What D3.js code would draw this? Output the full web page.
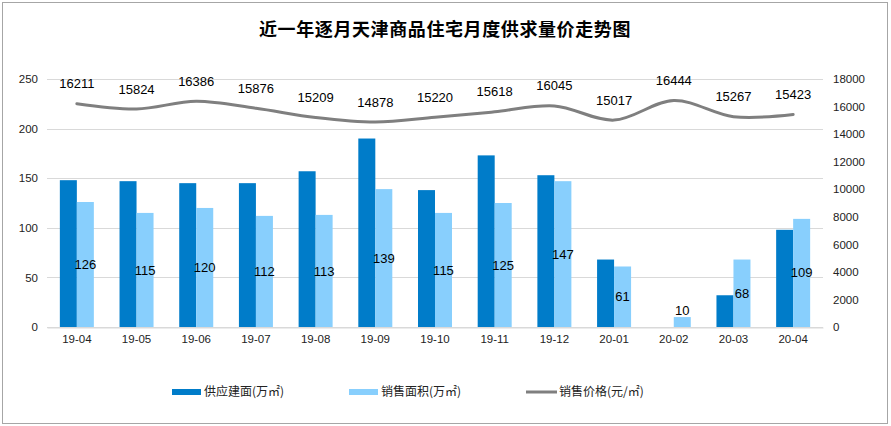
<!DOCTYPE html>
<html lang="zh">
<head>
    <meta charset="utf-8">
    <title>天津商品住宅月度供求量价走势</title>
    <style type="text/css">
        body { margin: 0; background: #fff; }
        .chart text { font-family: "Liberation Sans", Arial, sans-serif; fill: #000; }
        .chart .title { font-family: "Noto Sans CJK SC", sans-serif; font-size: 18px; font-weight: bold; }
        .chart .legend text { font-family: "Noto Sans CJK SC", sans-serif; font-size: 12px; fill: #222; }
        .chart .axis-label { font-size: 11.5px; fill: #222; }
        .chart .data-label { font-size: 13px; }
    </style>
</head>
<body>
    <svg class="chart" width="891" height="426"></svg>

    <script src="https://cdn.jsdelivr.net/npm/d3@7"></script>
    <script>
        // 数据
        var months = ['19-04', '19-05', '19-06', '19-07', '19-08', '19-09', '19-10',
                      '19-11', '19-12', '20-01', '20-02', '20-03', '20-04'];
        var supply = [148, 147, 145, 145, 157, 190, 138, 173, 153, 68, 0, 32, 98];
        var sales  = [126, 115, 120, 112, 113, 139, 115, 125, 147, 61, 10, 68, 109];
        var price  = [16211, 15824, 16386, 15876, 15209, 14878, 15220, 15618, 16045, 15017, 16444, 15267, 15423];
        var leftTicks  = [0, 50, 100, 150, 200, 250];
        var rightTicks = [0, 2000, 4000, 6000, 8000, 10000, 12000, 14000, 16000, 18000];

        var svg = d3.select('.chart');
        var plot = {left: 47, right: 823, top: 79, bottom: 327};

        // 外框
        svg.append('rect')
            .attr('x', 2.5).attr('y', 2.5)
            .attr('width', 885).attr('height', 421)
            .attr('fill', 'none')
            .attr('stroke', '#a6a6a6');

        // 标题
        svg.append('text')
            .attr('class', 'title')
            .attr('x', 445).attr('y', 36)
            .attr('text-anchor', 'middle')
            .style('letter-spacing', '0.6px')
            .text('近一年逐月天津商品住宅月度供求量价走势图');

        // 比例尺
        var x = d3.scaleBand().domain(months).range([plot.left, plot.right]);
        var barW = 17;
        var x1 = d3.scaleBand().domain(['supply', 'sales'])
                    .range([(x.bandwidth() - 2 * barW) / 2, (x.bandwidth() + 2 * barW) / 2]);
        var y = d3.scaleLinear().domain([0, 250]).range([plot.bottom, plot.top]);
        var y2 = d3.scaleLinear().domain([0, 18000]).range([plot.bottom, plot.top]);

        // 网格线
        svg.append('g')
            .selectAll('line')
            .data(leftTicks)
            .enter()
            .append('line')
            .attr('x1', plot.left).attr('x2', plot.right)
            .attr('y1', function(d) { return Math.round(y(d)) + 0.5; })
            .attr('y2', function(d) { return Math.round(y(d)) + 0.5; })
            .attr('stroke', '#d9d9d9');

        // 左轴
        var leftAxis = svg.append('g')
            .attr('transform', 'translate(' + (plot.left - 9) + ',0)')
            .call(d3.axisLeft(y).tickValues(leftTicks).tickSize(0).tickPadding(0));
        leftAxis.select('.domain').remove();
        leftAxis.selectAll('text').attr('class', 'axis-label').attr('fill', null);

        // 右轴
        var rightAxis = svg.append('g')
            .attr('transform', 'translate(' + (plot.right + 10) + ',0)')
            .call(d3.axisRight(y2).tickValues(rightTicks).tickSize(0).tickPadding(0).tickFormat(d3.format('d')));
        rightAxis.select('.domain').remove();
        rightAxis.selectAll('text').attr('class', 'axis-label').attr('fill', null);

        // 底轴
        var bottomAxis = svg.append('g')
            .attr('transform', 'translate(0,' + (plot.bottom + 0.5) + ')')
            .call(d3.axisBottom(x).tickSize(0).tickPadding(7));
        bottomAxis.select('.domain').attr('stroke', '#d9d9d9');
        bottomAxis.selectAll('text').attr('class', 'axis-label').attr('fill', null);

        // 柱子
        var groups = svg.append('g')
            .selectAll('g')
            .data(months)
            .enter()
            .append('g')
            .attr('transform', function(d) { return 'translate(' + x(d) + ',0)'; });

        groups.append('rect')
            .attr('x', x1('supply'))
            .attr('width', barW)
            .attr('y', function(d, i) { return y(supply[i]); })
            .attr('height', function(d, i) { return plot.bottom - y(supply[i]); })
            .attr('fill', '#007cc9');

        groups.append('rect')
            .attr('x', x1('sales'))
            .attr('width', barW)
            .attr('y', function(d, i) { return y(sales[i]); })
            .attr('height', function(d, i) { return plot.bottom - y(sales[i]); })
            .attr('fill', '#88cffd');

        // 销售面积标签
        groups.append('text')
            .attr('class', 'data-label')
            .attr('x', x1('sales') + barW / 2)
            .attr('y', function(d, i) {
                var h = plot.bottom - y(sales[i]);
                return h < 20 ? y(sales[i]) - 7 : y(sales[i]) + h / 2;
            })
            .attr('text-anchor', 'middle')
            .attr('dy', '0.35em')
            .text(function(d, i) { return sales[i]; });

        // 价格曲线
        var line = d3.line()
            .x(function(d, i) { return x(months[i]) + x.bandwidth() / 2; })
            .y(function(d) { return y2(d); })
            .curve(d3.curveCatmullRom.alpha(0.5));

        svg.append('path')
            .datum(price)
            .attr('d', line)
            .attr('fill', 'none')
            .attr('stroke', '#7f7f7f')
            .attr('stroke-width', 3)
            .attr('stroke-linecap', 'round');

        svg.append('g')
            .selectAll('text')
            .data(price)
            .enter()
            .append('text')
            .attr('class', 'data-label')
            .attr('x', function(d, i) { return x(months[i]) + x.bandwidth() / 2; })
            .attr('y', function(d) { return y2(d) - 20; })
            .attr('text-anchor', 'middle')
            .attr('dy', '0.35em')
            .text(function(d) { return d; });

        // 图例
        var legend = svg.append('g').attr('class', 'legend');
        var items = [
            {label: '供应建面(万㎡)', x: 172, color: '#007cc9', type: 'bar'},
            {label: '销售面积(万㎡)', x: 349, color: '#88cffd', type: 'bar'},
            {label: '销售价格(元/㎡)', x: 526, color: '#7f7f7f', type: 'line'}
        ];
        items.forEach(function(it) {
            if (it.type === 'bar') {
                legend.append('rect')
                    .attr('x', it.x).attr('y', 389)
                    .attr('width', 29).attr('height', 6)
                    .attr('fill', it.color);
            } else {
                legend.append('line')
                    .attr('x1', it.x).attr('x2', it.x + 31)
                    .attr('y1', 392).attr('y2', 392)
                    .attr('stroke', it.color)
                    .attr('stroke-width', 3);
            }
            legend.append('text')
                .attr('x', it.x + (it.type === 'bar' ? 32 : 33))
                .attr('y', 392)
                .attr('dy', '0.35em')
                .text(it.label);
        });
    </script>
</body>
</html>
